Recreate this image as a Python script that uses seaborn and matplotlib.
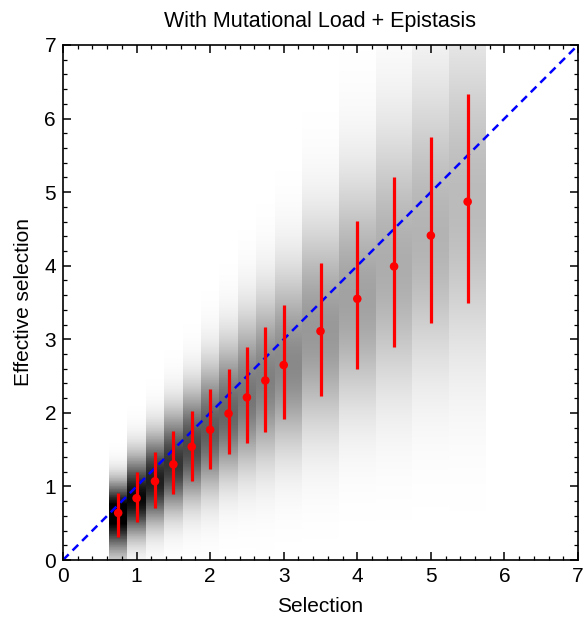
import numpy as np
import pandas as pd
import matplotlib
matplotlib.use("Agg")
import matplotlib.pyplot as plt
from matplotlib.colors import LinearSegmentedColormap
from matplotlib.ticker import MultipleLocator
import seaborn as sns

# ---- data ----
selection = [0.75, 1.0, 1.25, 1.5, 1.75, 2.0, 2.25, 2.5, 2.75, 3.0, 3.5, 4.0, 4.5, 5.0, 5.5]
eff_mean  = [0.64, 0.84, 1.07, 1.30, 1.54, 1.77, 1.99, 2.21, 2.44, 2.65, 3.11, 3.55, 3.99, 4.41, 4.87]
eff_lower = [0.31, 0.52, 0.71, 0.90, 1.08, 1.24, 1.44, 1.59, 1.74, 1.91, 2.23, 2.60, 2.89, 3.22, 3.50]
eff_upper = [0.91, 1.20, 1.47, 1.75, 2.03, 2.33, 2.60, 2.90, 3.17, 3.46, 4.04, 4.61, 5.20, 5.75, 6.33]
tick_values = [0, 1, 2, 3, 4, 5, 6, 7]

title = "With Mutational Load + Epistasis"
xlabel = "Selection"
ylabel = "Effective selection"

df = pd.DataFrame({"Selection": selection, "Effective": eff_mean,
                   "lo": eff_lower, "hi": eff_upper})

sns.set_theme(style="ticks")
plt.rcParams["font.family"] = ["Liberation Sans", "DejaVu Sans"]
plt.rcParams["text.color"] = "black"
plt.rcParams["axes.labelcolor"] = "black"
plt.rcParams["xtick.color"] = "black"
plt.rcParams["ytick.color"] = "black"

fig = plt.figure(figsize=(5.85, 6.24), dpi=100)
ax = fig.add_axes([63 / 585, 64 / 624, 515 / 585, 515 / 624])

# ---- density background: one column per selection value ----
s = np.array(selection)
mids = (s[1:] + s[:-1]) / 2
x_edges = np.concatenate([[s[0] - (s[1] - s[0]) / 2], mids, [s[-1] + (s[-1] - s[-2]) / 2]])
y_edges = np.linspace(0, 7, 701)
y_c = (y_edges[1:] + y_edges[:-1]) / 2
dens = np.zeros((len(y_c), len(s)))
for i in range(len(s)):
    m = eff_mean[i]
    sd_lo = m - eff_lower[i]
    sd_hi = eff_upper[i] - m
    sd = np.where(y_c < m, sd_lo, sd_hi)
    dens[:, i] = np.exp(-0.5 * ((y_c - m) / sd) ** 2) / ((sd_lo + sd_hi) / 2)
dens = (dens / dens.max()) ** 0.9
cmap = LinearSegmentedColormap.from_list("wk", ["#ffffff", "#000000"])
ax.pcolormesh(x_edges, y_edges, dens, cmap=cmap, vmin=0, vmax=0.92,
              shading="flat", zorder=0, rasterized=True)

# ---- identity line ----
ax.axline((0, 0), slope=1, color="#0000ff", lw=1.8, ls=(0, (3.2, 2.2)), zorder=2)

# ---- error bars + means ----
ax.vlines(df["Selection"], df["lo"], df["hi"], color="#ff0000", lw=2.3, zorder=3)
sns.scatterplot(data=df, x="Selection", y="Effective", ax=ax, color="#ff0000",
                s=38, edgecolor="none", zorder=4, legend=False)

ax.set_xlim(0, 7)
ax.set_ylim(0, 7)
ax.set_xticks(tick_values)
ax.set_yticks(tick_values)
ax.xaxis.set_minor_locator(MultipleLocator(0.2))
ax.yaxis.set_minor_locator(MultipleLocator(0.2))
ax.tick_params(which="both", direction="in", top=True, right=True, color="black",
               labelcolor="black", labelsize=15, pad=5)
ax.tick_params(which="major", length=6, width=1.1)
ax.tick_params(which="minor", length=3.2, width=0.9)
for sp in ax.spines.values():
    sp.set_visible(True)
    sp.set_linewidth(1.2)
    sp.set_color("black")

ax.set_title(title, fontsize=15.5, pad=13, color="black")
ax.set_xlabel(xlabel, fontsize=15, labelpad=8, color="black")
ax.set_ylabel(ylabel, fontsize=15, labelpad=8, color="black")

fig.savefig("out.png", dpi=100)
